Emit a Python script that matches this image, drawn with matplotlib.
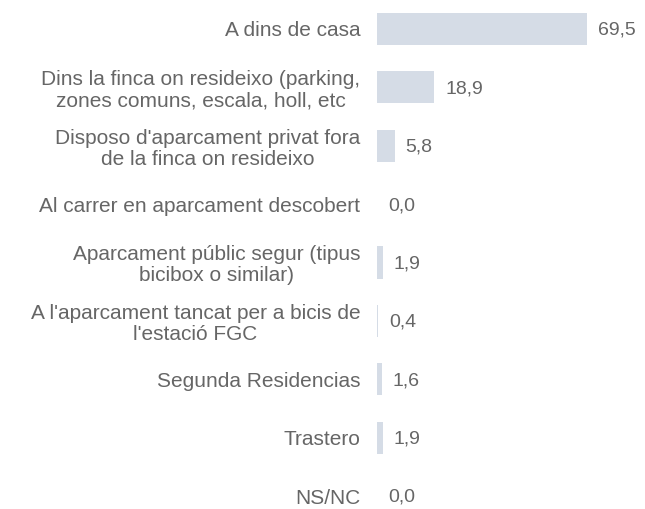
import matplotlib.pyplot as plt

# Data
categories = [
    "A dins de casa",
    "Dins la finca on resideixo (parking,\nzones comuns, escala, holl, etc",
    "Disposo d'aparcament privat fora\nde la finca on resideixo",
    "Al carrer en aparcament descobert",
    "Aparcament públic segur (tipus\nbicibox o similar)",
    "A l'aparcament tancat per a bicis de\nl'estació FGC",
    "Segunda Residencias",
    "Trastero",
    "NS/NC",
]
values = [69.5, 18.9, 5.8, 0.0, 1.9, 0.4, 1.6, 1.9, 0.0]

bar_color = '#d5dce6'
text_color = '#666666'

plt.rcParams['font.family'] = ['Liberation Sans', 'DejaVu Sans']

fig = plt.figure(figsize=(6.45, 5.09), dpi=100)
ax = fig.add_axes([377 / 645, 0, 1 - 377 / 645, 1])

n = len(categories)
ax.barh(range(n), values, height=0.55, color=bar_color)

# pixel geometry: row 0 centred at y=29px, row 8 at y=496px
step = (496 - 29) / (n - 1)
ax.set_ylim(8 + 13 / step, -29 / step)
ax.set_xlim(0, (645 - 377) / 3.02)

for i, v in enumerate(values):
    ax.annotate(f"{v:.1f}".replace('.', ','), (v, i), xytext=(8, -1),
                textcoords='offset points', va='center', ha='left',
                fontsize=14, color=text_color)

ax.set_yticks(range(n))
ax.set_yticklabels(categories, fontsize=15, color=text_color,
                   multialignment='center', linespacing=1.12)
ax.tick_params(axis='y', length=0, pad=12)
ax.set_xticks([])
for s in ax.spines.values():
    s.set_visible(False)

fig.savefig('out.png', dpi=100)
